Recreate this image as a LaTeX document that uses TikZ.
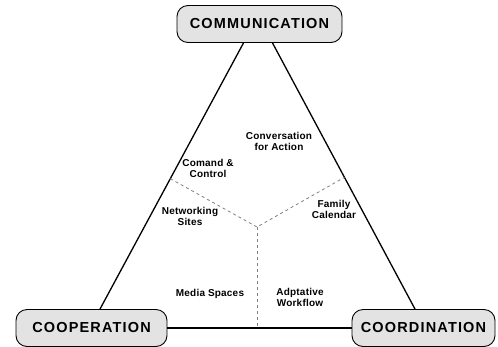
\documentclass[tikz,border=0pt]{standalone}
\usepackage{fontspec}
\setmainfont{Liberation Sans}
\newfontfamily\boxfont[LetterSpace=8]{Liberation Sans}
\newfontfamily\itemfont[LetterSpace=2]{Liberation Sans}
\usetikzlibrary{positioning,calc}

\begin{document}
\begin{tikzpicture}[x=1pt,y=-1pt,
  corner/.style={draw,line width=0.9pt,rounded corners=11pt,fill=gray!22,minimum height=37pt,inner sep=0pt,font=\boxfont\bfseries\fontsize{14.5}{16}\selectfont},
  item/.style={align=center,font=\itemfont\bfseries\fontsize{10}{11}\selectfont},
  side/.style={line width=1.3pt},
  split/.style={dashed,gray,line width=0.8pt}]
  \clip (0,0) rectangle (498,346);
  \fill[white] (0,0) rectangle (498,346);
  % the three corners
  \node[corner,minimum width=165pt](comm) at (259.5,24){COMMUNICATION};
  \node[corner,minimum width=151pt](coop) at (91.5,328){COOPERATION};
  \node[corner,minimum width=143pt](coord) at (423.5,328){COORDINATION};
  % sides
  \coordinate (cl) at ([xshift=-16pt]comm.south);
  \coordinate (cr) at ([xshift=13pt]comm.south);
  \coordinate (pl) at ([xshift=8.5pt]coop.north);
  \coordinate (dr) at ([xshift=-8.5pt]coord.north);
  \draw[side] (cl) -- (pl);
  \draw[side] (cr) -- (dr);
  \draw[side] (coop) -- (coord);
  % dashed split
  \coordinate (mid) at (257,227);
  \coordinate (ml) at ($(cl)!0.51!(pl)$);
  \coordinate (mr) at ($(cr)!0.505!(dr)$);
  \draw[split] (ml) -- (mid) -- (mr);
  \draw[split] (mid) -- (mid |- coop.east);
  % examples
  \node[item](conv) at (279,141){Conversation\\for Action};
  \node[item](cmd) at (208,168){Comand \&\\Control};
  \node[item](net) at (190,216){Networking\\Sites};
  \node[item](fam) at (334,209){Family\\Calendar};
  \node[item](media) at (210,294){Media Spaces};
  \node[item](flow) at (300,297){Adptative\\Workflow};
\end{tikzpicture}
\end{document}
